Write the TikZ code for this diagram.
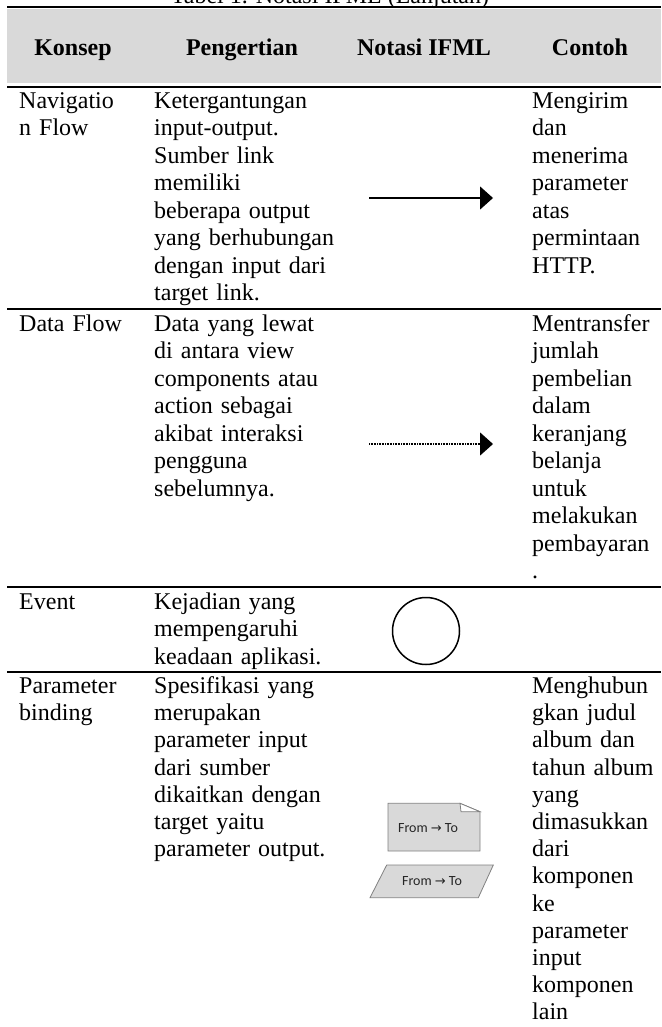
\documentclass[tikz,border=0pt]{standalone}
\usepackage{fontspec}
\setmainfont{Liberation Serif}
\newfontfamily\notefont{Carlito}
\newfontfamily\arrowfont{DejaVu Sans}
\usetikzlibrary{arrows.meta}
\definecolor{headgray}{HTML}{D9D9D9}
\definecolor{shapegray}{HTML}{D9D9D9}
\definecolor{edgegray}{HTML}{808080}
\definecolor{notetext}{HTML}{262626}
\newcommand{\bodysize}{\fontsize{24}{27.5}\selectfont}
\newcommand{\lastrowsize}{\fontsize{24}{27.2}\selectfont}
\newcommand{\fromto}{From {\arrowfont\fontsize{13}{14}\selectfont →} To}
\begin{document}
\begin{tikzpicture}[x=1pt,y=-1pt,
  cell/.style={anchor=base west, inner sep=0pt, text width=220pt, align=left, font=\bodysize},
  lastcell/.style={cell, font=\lastrowsize},
  head/.style={anchor=base, inner sep=0pt, font=\bodysize\bfseries},
  toprule/.style={line width=1.8pt},
  rowrule/.style={line width=2.4pt},
  flowline/.style={line width=1.1pt, -{Triangle[length=13pt,width=23pt]}},
  dataline/.style={flowline, dash pattern=on 0.8pt off 0.8pt},
  shapebox/.style={fill=shapegray, draw=edgegray, line width=0.8pt, line join=miter},
  notelabel/.style={inner sep=0pt, text=notetext, font=\notefont\fontsize{14}{16}\selectfont}
]
\useasboundingbox (0,0) rectangle (661,1027);

% caption, mostly above the page edge
\node (title) [anchor=base, inner sep=0pt, font=\bodysize] at (330,4) {Tabel 1. Notasi IFML (Lanjutan)};

% header band and rules
\fill[headgray] (7,9) rectangle (661,83);
\draw[toprule] (7,7) -- (661,7);
\draw[rowrule] (7,87) -- (661,87);
\draw[rowrule] (7,309) -- (661,309);
\draw[rowrule] (7,587) -- (661,587);
\draw[rowrule] (7,672) -- (661,672);

% column headings
\node (h1) [head] at (73,56) {Konsep};
\node (h2) [head] at (242,56) {Pengertian};
\node (h3) [head] at (424,56) {Notasi IFML};
\node (h4) [head] at (590,56) {Contoh};

% row: Navigation Flow
\node (nav-k) [cell] at (19,108.5) {Navigatio\\n Flow};
\node (nav-p) [cell] at (154,108.5) {Ketergantungan\\input-output.\\Sumber link\\memiliki\\beberapa output\\yang berhubungan\\dengan input dari\\target link.};
\node (nav-c) [cell] at (532,108.5) {Mengirim\\dan\\menerima\\parameter\\atas\\permintaan\\HTTP.};
\coordinate (nav-s) at (369,198);
\coordinate (nav-e) at (493,198);
\draw[flowline] (nav-s) -- (nav-e);

% row: Data Flow
\node (data-k) [cell] at (19,331) {Data Flow};
\node (data-p) [cell] at (154,331) {Data yang lewat\\di antara view\\components atau\\action sebagai\\akibat interaksi\\pengguna\\sebelumnya.};
\node (data-c) [cell] at (532,331) {Mentransfer\\jumlah\\pembelian\\dalam\\keranjang\\belanja\\untuk\\melakukan\\pembayaran\\.};
\coordinate (data-s) at (369,444);
\coordinate (data-e) at (493,444);
\draw[dataline] (data-s) -- (data-e);

% row: Event
\node (ev-k) [cell] at (19,609) {Event};
\node (ev-p) [cell] at (154,609) {Kejadian yang\\mempengaruhi\\keadaan aplikasi.};
\node (ev-sym) [draw, circle, line width=1.5pt, minimum size=67pt, inner sep=0pt] at (426,631) {};

% row: Parameter binding
\node (pb-k) [lastcell] at (19,693.5) {Parameter\\binding};
\node (pb-p) [lastcell] at (154,693.5) {Spesifikasi yang\\merupakan\\parameter input\\dari sumber\\dikaitkan dengan\\target yaitu\\parameter output.};
\node (pb-c) [lastcell] at (532,693.5) {Menghubun\\gkan judul\\album dan\\tahun album\\yang\\dimasukkan\\dari\\komponen\\ke\\parameter\\input\\komponen\\lain};

% parameter binding symbols: folded note and parallelogram
\draw[shapebox] (388,803.3) -- (460,803.3) -- (480,811.7) -- (480,851) -- (388,851) -- cycle;
\draw[fill=white, draw=edgegray, line width=0.8pt] (460,803.3) -- (461,811.7) -- (480,811.7) -- cycle;
\node (pb-note) [notelabel] at (428,828) {\fromto};
\draw[shapebox] (386.7,865) -- (493.3,865) -- (478.3,897.7) -- (370,897.7) -- cycle;
\node (pb-para) [notelabel] at (432,881) {\fromto};
\end{tikzpicture}
\end{document}
